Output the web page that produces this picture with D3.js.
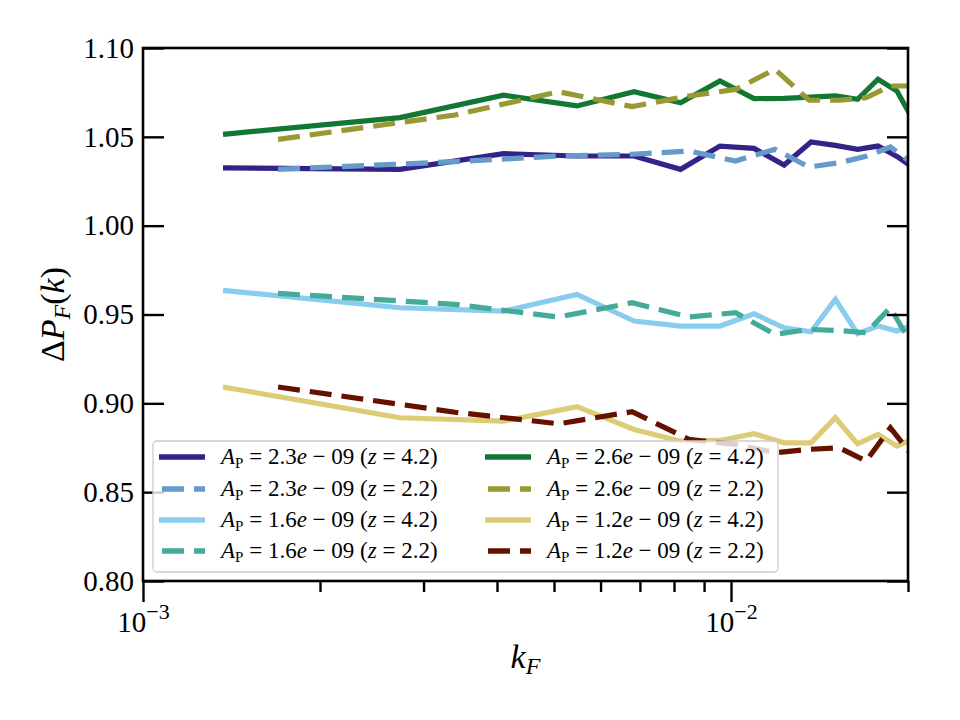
<!doctype html>
<html lang="en">
<head>
<meta charset="UTF-8" />
<title>Delta P_F(k)</title>
<script src="https://d3js.org/d3.v7.min.js"></script>
<style>
  body { margin: 0; background: #fff; }
  svg text { font-family: 'Liberation Serif', 'DejaVu Serif', serif; fill: #000; }
</style>
</head>
<body>
<div id="chart"></div>
<script>
// k values of the two redshift samples
var kHigh = [0.001368, 0.002736, 0.004104, 0.005472, 0.00684, 0.008208, 0.009576, 0.010944,
             0.012312, 0.01368, 0.015048, 0.016416, 0.017784, 0.019152, 0.02052];
var kLow = [0.001697, 0.003394, 0.005091, 0.006788, 0.008485, 0.010182, 0.011879, 0.013576,
            0.015273, 0.01697, 0.018667, 0.020364];

// ratio values
var a23z42 = [1.0325, 1.0317, 1.0405, 1.0392, 1.0392, 1.0317, 1.0448, 1.0435, 1.0341, 1.0471, 1.0452, 1.043, 1.0448, 1.039, 1.032];
var a23z22 = [1.0317, 1.036, 1.0392, 1.0402, 1.042, 1.0364, 1.043, 1.033, 1.0354, 1.039, 1.0443, 1.035];
var a16z42 = [0.9636, 0.9538, 0.9519, 0.9613, 0.9463, 0.9435, 0.9435, 0.9504, 0.9425, 0.9403, 0.9585, 0.9392, 0.9435, 0.9407, 0.9445];
var a16z22 = [0.9619, 0.9557, 0.9486, 0.9566, 0.9486, 0.951, 0.9388, 0.9416, 0.941, 0.9397, 0.9538, 0.9322];
var a26z42 = [1.0514, 1.0608, 1.0734, 1.0674, 1.0754, 1.0692, 1.0814, 1.0715, 1.0717, 1.0724, 1.073, 1.0711, 1.0824, 1.0758, 1.058];
var a26z22 = [1.0486, 1.0623, 1.0754, 1.067, 1.073, 1.0767, 1.088, 1.0706, 1.0706, 1.072, 1.0786, 1.0786];
var a12z42 = [0.9092, 0.8919, 0.89, 0.8981, 0.8853, 0.8787, 0.8791, 0.8829, 0.8778, 0.8778, 0.8919, 0.8772, 0.8825, 0.8759, 0.8805];
var a12z22 = [0.9092, 0.895, 0.8885, 0.8953, 0.8797, 0.8769, 0.8722, 0.8741, 0.875, 0.8675, 0.8862, 0.8703];

var ampLabels = ['2.3', '2.3', '1.6', '1.6', '2.6', '2.6', '1.2', '1.2'];
var zLabels = ['4.2', '2.2', '4.2', '2.2', '4.2', '2.2', '4.2', '2.2'];
var yTicks = [0.80, 0.85, 0.90, 0.95, 1.00, 1.05, 1.10];
var xMajor = [1e-3, 1e-2];
var xMajorExp = ['\u22123', '\u22122'];
var xMinor = [2e-3, 3e-3, 4e-3, 5e-3, 6e-3, 7e-3, 8e-3, 9e-3, 2e-2];

var colors = ['#332288', '#6699CC', '#88CCEE', '#44AA99', '#117733', '#999933', '#DDCC77', '#661100'];

var series = [
    { k: kHigh, v: a23z42, dash: false },
    { k: kLow, v: a23z22, dash: true },
    { k: kHigh, v: a16z42, dash: false },
    { k: kLow, v: a16z22, dash: true },
    { k: kHigh, v: a26z42, dash: false },
    { k: kLow, v: a26z22, dash: true },
    { k: kHigh, v: a12z42, dash: false },
    { k: kLow, v: a12z22, dash: true }
];

var W = 960, H = 720;
var mLeft = 143, mRight = 908, mTop = 48, mBottom = 581;

var svg = d3.select('#chart').append('svg')
    .attr('width', W)
    .attr('height', H);

var x = d3.scaleLog().domain([1e-3, 2e-2]).range([mLeft, mRight]);
var y = d3.scaleLinear().domain([0.80, 1.10]).range([mBottom, mTop]);

svg.append('clipPath').attr('id', 'clip')
    .append('rect')
    .attr('x', mLeft).attr('y', mTop)
    .attr('width', mRight - mLeft).attr('height', mBottom - mTop);

var line = d3.line()
    .x(function (d) { return x(d[0]); })
    .y(function (d) { return y(d[1]); });

var plot = svg.append('g').attr('clip-path', 'url(#clip)');
series.forEach(function (s, i) {
    plot.append('path')
        .datum(s.k.map(function (k, j) { return [k, s.v[j]]; }))
        .attr('d', line)
        .attr('fill', 'none')
        .attr('stroke', colors[i])
        .attr('stroke-width', 5.2)
        .attr('stroke-dasharray', s.dash ? '22,10' : null);
});

// axes
function styleAxis(g) {
    g.select('.domain').remove();
    g.selectAll('.tick line').attr('stroke', '#000').attr('stroke-width', 2.4);
}

svg.append('g')
    .attr('transform', 'translate(0,' + mBottom + ')')
    .call(d3.axisBottom(x).tickValues(xMinor).tickSize(11).tickFormat(''))
    .call(styleAxis);

var xMaj = svg.append('g')
    .attr('transform', 'translate(0,' + mBottom + ')')
    .call(d3.axisBottom(x).tickValues(xMajor).tickSize(21).tickFormat(''))
    .call(styleAxis);

xMaj.selectAll('.tick').each(function (d, i) {
    var t = d3.select(this).append('text')
        .attr('y', 51)
        .attr('text-anchor', 'middle')
        .attr('font-size', 29)
        .attr('fill', '#000');
    t.append('tspan').text('10');
    t.append('tspan').attr('dy', -13).attr('font-size', 22).text(xMajorExp[i]);
});

svg.append('g')
    .attr('transform', 'translate(' + mLeft + ',0)')
    .call(d3.axisLeft(y).tickValues(yTicks).tickSize(-21).tickPadding(9).tickFormat(d3.format('.2f')))
    .call(styleAxis)
    .selectAll('text')
    .attr('font-size', 29)
    .attr('fill', '#000')
    .attr('font-family', "'Liberation Serif', serif");

svg.append('g')
    .attr('transform', 'translate(' + mRight + ',0)')
    .call(d3.axisRight(y).tickValues(yTicks).tickSize(-21).tickFormat(''))
    .call(styleAxis);

svg.append('rect')
    .attr('x', mLeft).attr('y', mTop)
    .attr('width', mRight - mLeft).attr('height', mBottom - mTop)
    .attr('fill', 'none')
    .attr('stroke', '#000')
    .attr('stroke-width', 2.6);

// axis labels
var xl = svg.append('text')
    .attr('x', (mLeft + mRight) / 2)
    .attr('y', 668)
    .attr('text-anchor', 'middle')
    .attr('font-size', 34);
xl.append('tspan').attr('font-style', 'italic').text('k');
xl.append('tspan').attr('font-style', 'italic').attr('font-size', 24).attr('dy', 6).text('F');

var yl = svg.append('text')
    .attr('transform', 'translate(64,' + ((mTop + mBottom) / 2) + ') rotate(-90)')
    .attr('text-anchor', 'middle')
    .attr('font-size', 34);
yl.append('tspan').text('\u0394');
yl.append('tspan').attr('font-style', 'italic').text('P');
yl.append('tspan').attr('font-style', 'italic').attr('font-size', 24).attr('dy', 6).text('F');
yl.append('tspan').attr('dy', -6).text('(');
yl.append('tspan').attr('font-style', 'italic').text('k');
yl.append('tspan').text(')');

// legend
var legend = svg.append('g');
legend.append('rect')
    .attr('x', 153).attr('y', 441)
    .attr('width', 625).attr('height', 131)
    .attr('rx', 4)
    .attr('fill', '#fff').attr('fill-opacity', 0.8)
    .attr('stroke', '#cccccc').attr('stroke-width', 1.3);

var colX = [159, 485];
var rowY = [457, 489, 520, 551];

series.forEach(function (s, i) {
    var cx = colX[Math.floor(i / 4)];
    var cy = rowY[i % 4];
    legend.append('line')
        .attr('x1', cx).attr('x2', cx + 46)
        .attr('y1', cy).attr('y2', cy)
        .attr('stroke', colors[i])
        .attr('stroke-width', 5.5)
        .attr('stroke-dasharray', s.dash ? '22,10' : null)
        .attr('stroke-dashoffset', s.dash ? 29 : null);
    var t = legend.append('text')
        .attr('x', cx + 62)
        .attr('y', cy + 7)
        .attr('font-size', 23);
    t.append('tspan').attr('font-style', 'italic').text('A');
    t.append('tspan').attr('font-size', 15).attr('dy', 4).text('P');
    t.append('tspan').attr('dy', -4).text(' = ' + ampLabels[i]);
    t.append('tspan').attr('font-style', 'italic').text('e');
    t.append('tspan').text(' \u2212 09 (');
    t.append('tspan').attr('font-style', 'italic').text('z');
    t.append('tspan').text(' = ' + zLabels[i] + ')');
});
</script>
</body>
</html>
